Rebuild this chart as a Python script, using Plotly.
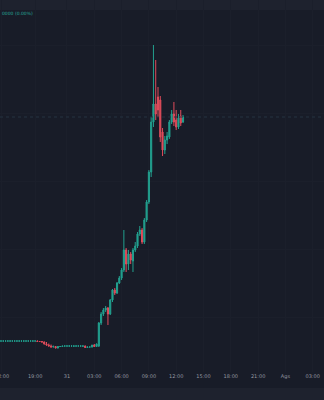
import plotly.graph_objects as go

# candle times in hours relative to 00:00 on the 31st (15-minute candles)
hours = [-7.25 + 0.25 * k for k in range(81)]

opens = [31, 31, 31, 31, 31, 31, 31, 31, 31, 31, 31, 31, 31, 31, 31, 31,
         31, 30.5, 30.5, 30, 28, 27, 26, 25, 25.5, 24, 25.5, 25.5, 26, 26,
         26, 26, 26, 26, 26, 26, 26, 26, 24.5, 25, 25, 27, 25.5,
         26, 49, 58, 62, 64, 58, 72, 82, 79, 89, 94, 102, 122, 108, 118, 111,
         122, 126, 138, 142, 130, 152, 170, 200, 250, 268, 275, 272, 240, 222,
         232, 235, 250, 258, 252, 245, 256, 250]
highs = [31.5, 31.5, 31.5, 31.5, 31.5, 31.5, 31.5, 31.5, 31.5, 31.5, 31.5, 31.5, 31.5, 31.5, 31.5, 31.5,
         31.5, 31, 31, 30.5, 30, 28.5, 27.5, 26.5, 26, 26, 26, 26, 26.5, 26.5,
         26.5, 26.5, 26.5, 26.5, 26.5, 26.5, 26.5, 26.5, 25.5, 25.5, 25.5, 28, 28.5,
         50, 60, 64, 66, 65, 73, 83, 84, 90, 96, 104, 142, 124, 122, 120, 124,
         130, 140, 146, 144, 154, 172, 202, 255, 327, 312, 285, 276, 244, 236,
         240, 252, 262, 270, 262, 258, 262, 257]
lows = [30.5, 30.5, 30.5, 30.5, 30.5, 30.5, 30.5, 30.5, 30.5, 30.5, 30.5, 30.5, 30.5, 30.5, 30.5, 30.5,
        30, 30, 29.5, 27.5, 26.5, 25.5, 24.5, 24.5, 23.5, 23.5, 25, 25, 25.5, 25.5,
        25.5, 25.5, 25, 25.5, 25.5, 25.5, 25, 24, 24, 24.5, 24.5, 25, 25,
        25, 47, 56, 60, 47, 57, 70, 77, 78, 88, 92, 100, 100, 102, 108, 100,
        120, 124, 136, 128, 128, 150, 168, 195, 245, 252, 255, 230, 216, 218,
        228, 233, 248, 246, 242, 243, 246, 249]
closes = [31, 31, 31, 31, 31, 31, 31, 31, 31, 31, 31, 31, 31, 31, 31, 31,
          30.5, 30.5, 30, 28, 27, 26, 25, 25.5, 24, 25.5, 25.5, 26, 26, 26,
          26, 26, 26, 26, 26, 26, 26, 24.5, 25, 25, 27, 25.5, 28,
          49, 58, 62, 64, 58, 72, 82, 79, 89, 94, 102, 122, 108, 118, 112, 122,
          126, 138, 142, 130, 152, 170, 200, 250, 268, 258, 262, 235, 222, 232,
          236, 250, 258, 250, 245, 254, 249, 255]

tick_hours = [-7.15, -3.5, 0, 3, 6, 9, 12, 15, 18, 21, 24, 27]
tick_labels = ["12:00", "19:00", "31", "03:00", "06:00", "09:00", "12:00",
               "15:00", "18:00", "21:00", "Ags", "03:00"]

last_price = 255

bg = "#181c28"
band = "#1e222e"
grid = "#1b1f2b"

fig = go.Figure()
fig.add_trace(go.Candlestick(
    x=hours, open=opens, high=highs, low=lows, close=closes,
    increasing=dict(line=dict(color="#22a08f", width=1), fillcolor="#22a08f"),
    decreasing=dict(line=dict(color="#e04c5b", width=1), fillcolor="#e04c5b"),
    whiskerwidth=0, showlegend=False, hoverinfo="skip",
))

fig.add_hline(y=last_price, line=dict(color="#253341", width=1, dash="dot"))

fig.add_shape(type="rect", xref="paper", yref="paper", x0=0, x1=1,
              y0=1 - 10 / 372, y1=1, fillcolor=band, line_width=0, layer="below")
fig.add_shape(type="rect", xref="paper", yref="paper", x0=0, x1=1,
              y0=-28 / 372, y1=-16 / 372, fillcolor=band, line_width=0, layer="below")

fig.add_annotation(xref="paper", yref="paper", x=0, y=1 - 14 / 372,
                   text="0000 (0.00%)", showarrow=False, xanchor="left", yanchor="middle",
                   font=dict(size=4.5, color="#26a69a", family="DejaVu Sans"))

fig.update_layout(
    width=324, height=400,
    margin=dict(l=0, r=0, t=0, b=28, autoexpand=False),
    paper_bgcolor=bg, plot_bgcolor=bg,
    xaxis=dict(range=[-7.36, 28.24], tickvals=tick_hours, ticktext=tick_labels,
               showgrid=True, gridcolor=grid, gridwidth=1, zeroline=False,
               rangeslider=dict(visible=False), ticks="", showline=False,
               ticklabeloverflow="allow", automargin=False,
               tickfont=dict(size=5, color="#9598a1", family="DejaVu Sans"),
               fixedrange=True),
    yaxis=dict(range=[0, 372], showticklabels=False, tick0=55, dtick=68,
               showgrid=True, gridcolor=grid, gridwidth=1, zeroline=False,
               showline=False, ticks="", fixedrange=True, automargin=False),
)

fig.write_html("out.html")
